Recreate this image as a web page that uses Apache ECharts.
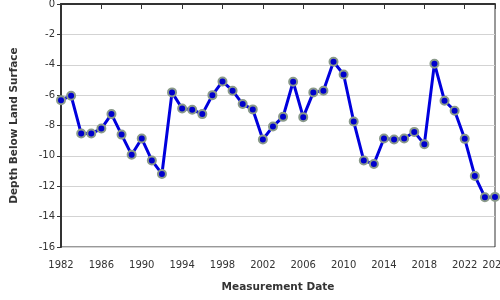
<!DOCTYPE html>
<html>
<head>
<meta charset="utf-8">
<script src="https://cdn.jsdelivr.net/npm/echarts@6/dist/echarts.min.js"></script>
<style>
  html, body { margin: 0; padding: 0; background: #fff; }
  #chart { width: 500px; height: 300px; }
</style>
</head>
<body>
<div id="chart"></div>
<script>
// measurement years and depth below land surface (ft)
var years = [1982, 1983, 1984, 1985, 1986, 1987, 1988, 1989, 1990, 1991, 1992,
  1993, 1994, 1995, 1996, 1997, 1998, 1999, 2000, 2001, 2002, 2003, 2004,
  2005, 2006, 2007, 2008, 2009, 2010, 2011, 2012, 2013, 2014, 2015, 2016,
  2017, 2018, 2019, 2020, 2021, 2022, 2023, 2024, 2025];
var depths = [-6.33, -6.04, -8.53, -8.53, -8.2, -7.25, -8.6, -9.93, -8.86, -10.3, -11.19,
  -5.82, -6.88, -6.96, -7.25, -6.0, -5.1, -5.71, -6.59, -6.94, -8.92, -8.06, -7.43,
  -5.12, -7.45, -5.82, -5.71, -3.8, -4.64, -7.74, -10.31, -10.53, -8.86, -8.92, -8.86,
  -8.42, -9.23, -3.93, -6.37, -7.03, -8.88, -11.32, -12.72, -12.7];

var points = years.map(function (y, i) { return [y, depths[i]]; });

var font = 'DejaVu Sans';

var chart = echarts.init(document.getElementById('chart'));
chart.setOption({
  animation: false,
  grid: {
    left: 61, right: 5, top: 4, bottom: 53,
    outerBoundsMode: 'none',
    containLabel: false,
    show: true, borderColor: '#333', borderWidth: 1
  },
  xAxis: {
    type: 'value',
    min: 1982, max: 2025, interval: 4,
    name: 'Measurement Date',
    nameLocation: 'middle',
    nameGap: 35,
    nameTextStyle: { fontFamily: font, fontSize: 10.5, fontWeight: 'bold', color: '#333' },
    axisLine: { lineStyle: { color: '#333', width: 2 } },
    axisTick: { length: 5, lineStyle: { color: '#333' } },
    axisLabel: {
      fontFamily: font, fontSize: 10, color: '#333', margin: 13,
      formatter: function (v) { return String(v); }
    },
    splitLine: { show: false }
  },
  yAxis: {
    type: 'value',
    min: -16, max: 0, interval: 2,
    name: 'Depth Below Land Surface',
    nameLocation: 'middle',
    nameGap: 41,
    nameTextStyle: { fontFamily: font, fontSize: 10.5, fontWeight: 'bold', color: '#333' },
    axisLine: { show: true, lineStyle: { color: '#333', width: 2 } },
    axisTick: { show: true, length: 4, lineStyle: { color: '#333' } },
    axisLabel: { fontFamily: font, fontSize: 10, color: '#333', margin: 6 },
    splitLine: { lineStyle: { color: '#d3d3d3', width: 1 } }
  },
  series: [{
    type: 'line',
    data: points,
    symbol: 'circle',
    symbolSize: 8,
    lineStyle: { color: '#0000dd', width: 3 },
    itemStyle: { color: '#0000cc', borderColor: '#8a9a8a', borderWidth: 2 }
  }]
});
</script>
</body>
</html>
